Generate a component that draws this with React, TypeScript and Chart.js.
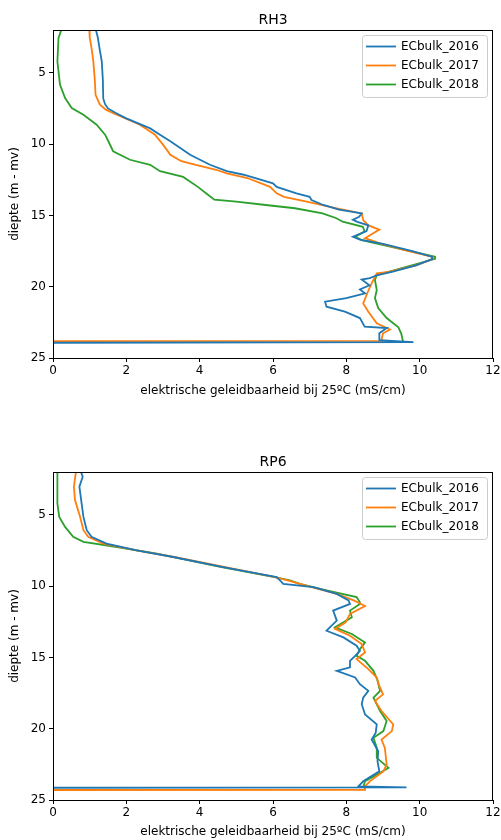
import React, { useEffect, useRef } from "react";
import { Chart, registerables } from "chart.js";
Chart.register(...registerables);

const FONT = "'DejaVu Sans', sans-serif";
const COLORS = ["#1f77b4", "#ff7f0e", "#2ca02c"];
const SERIES_LABELS = ["ECbulk_2016", "ECbulk_2017", "ECbulk_2018"];
const X_TICKS = [0, 2, 4, 6, 8, 10, 12];
const Y_TICKS = [5, 10, 15, 20, 25];
const X_TITLE = "elektrische geleidbaarheid bij 25ºC (mS/cm)";
const Y_TITLE = "diepte (m - mv)";

// ---------- RH3 ----------
const rh3Depth2016 = [1.9, 2.5, 3.3, 4.2, 5.5, 6.8, 7.2, 7.5, 7.8, 8.2, 8.9, 9.4, 9.8, 10.75, 11.45, 11.9, 12.15, 12.75, 13.0, 13.45, 13.7, 13.92, 14.27, 14.6, 14.86, 15.1, 15.3, 15.45, 15.7, 16.1, 16.5, 16.7, 17.0, 17.5, 17.9, 18.05, 18.5, 18.95, 19.2, 19.4, 19.5, 19.9, 20.2, 20.46, 20.8, 21.05, 21.4, 21.75, 22.2, 22.8, 22.9, 23.27, 23.74, 23.88, 23.93];
const rh3Ec2016 = [1.16, 1.22, 1.27, 1.33, 1.36, 1.37, 1.42, 1.5, 1.7, 2.0, 2.65, 2.95, 3.2, 3.74, 4.28, 4.74, 5.2, 6.0, 6.1, 6.64, 7.0, 7.05, 7.37, 7.8, 8.42, 8.35, 8.18, 8.3, 8.6, 8.55, 8.18, 8.37, 9.0, 9.8, 10.33, 10.35, 9.9, 9.27, 8.83, 8.64, 8.42, 8.63, 8.37, 8.51, 8.0, 7.42, 7.46, 7.96, 8.37, 8.5, 9.1, 8.9, 8.9, 9.83, 0];

const rh3Depth2017 = [1.9, 2.5, 3.26, 4.2, 5.5, 6.54, 7.24, 7.6, 7.94, 8.64, 9.34, 10.04, 10.75, 11.2, 11.5, 11.8, 12.05, 12.38, 13.0, 13.45, 13.7, 14.04, 14.5, 14.86, 15.33, 15.7, 16.0, 16.3, 16.6, 16.96, 17.5, 17.9, 18.05, 18.5, 18.95, 19.06, 19.76, 20.46, 21.17, 21.75, 22.57, 23.0, 23.27, 23.7, 23.8, 23.82];
const rh3Ec2017 = [0.99, 1.0, 1.05, 1.1, 1.14, 1.16, 1.28, 1.45, 1.74, 2.37, 2.78, 3.0, 3.2, 3.5, 3.95, 4.45, 4.74, 5.3, 5.92, 6.1, 6.3, 6.92, 7.74, 8.42, 8.46, 8.6, 8.9, 8.7, 8.51, 8.92, 9.7, 10.33, 10.37, 9.9, 9.2, 8.83, 8.69, 8.57, 8.46, 8.6, 8.83, 9.19, 9.0, 8.96, 9.0, 0];

const rh3Depth2018 = [1.9, 2.56, 4.2, 5.83, 6.77, 7.47, 7.94, 8.64, 9.34, 9.8, 10.5, 11.1, 11.45, 11.9, 12.3, 13.0, 13.5, 13.9, 14.04, 14.27, 14.5, 14.86, 15.2, 15.44, 15.8, 16.14, 16.5, 16.73, 17.9, 18.05, 18.8, 19.18, 19.53, 20.23, 20.8, 21.5, 22.2, 22.85, 23.3, 23.9];
const rh3Ec2018 = [0.24, 0.15, 0.12, 0.19, 0.33, 0.51, 0.83, 1.19, 1.42, 1.51, 1.64, 2.1, 2.65, 2.92, 3.55, 3.95, 4.2, 4.4, 5.0, 5.8, 6.6, 7.35, 7.73, 7.9, 8.45, 8.5, 8.24, 8.42, 10.42, 10.42, 9.37, 8.83, 8.78, 8.83, 8.78, 8.87, 9.1, 9.42, 9.5, 9.55];

// ---------- RP6 ----------
const rp6Depth2016 = [1.9, 2.33, 3.03, 4.2, 5.15, 6.08, 6.55, 7.02, 7.5, 7.96, 8.67, 9.37, 9.6, 9.84, 10.08, 10.55, 11.0, 11.25, 11.72, 12.42, 12.9, 13.13, 13.6, 14.18, 14.54, 14.89, 15.24, 15.7, 15.94, 16.41, 16.88, 17.35, 17.82, 18.29, 19.0, 19.7, 20.3, 20.76, 21.58, 22.3, 22.99, 23.69, 24.04, 24.12, 24.14];
const rp6Ec2016 = [0.75, 0.81, 0.72, 0.78, 0.83, 0.92, 1.05, 1.46, 2.28, 3.28, 4.64, 6.1, 6.19, 6.28, 7.1, 7.74, 8.06, 8.1, 7.64, 7.74, 7.55, 7.46, 7.92, 8.28, 8.37, 8.24, 8.1, 8.1, 7.74, 8.24, 8.37, 8.6, 8.46, 8.42, 8.51, 8.83, 8.8, 8.69, 8.87, 8.85, 8.9, 8.46, 8.33, 9.64, 0];

const rp6Depth2017 = [1.9, 3.03, 3.97, 5.15, 6.08, 6.55, 7.02, 7.5, 7.96, 8.67, 9.37, 9.6, 9.96, 10.55, 11.0, 11.4, 11.95, 12.54, 13.0, 13.48, 14.06, 14.65, 15.12, 15.82, 16.41, 17.0, 17.59, 18.06, 18.76, 19.7, 20.17, 20.76, 21.35, 22.51, 22.99, 23.69, 24.04, 24.28, 24.3];
const rp6Ec2017 = [0.63, 0.57, 0.6, 0.74, 0.83, 0.96, 1.37, 2.28, 3.3, 4.7, 6.05, 6.4, 6.9, 7.74, 8.2, 8.51, 8.1, 7.98, 7.69, 8.1, 8.42, 8.51, 8.28, 8.6, 8.83, 8.9, 9.0, 8.78, 8.96, 9.28, 9.24, 8.96, 9.05, 9.1, 9.01, 8.64, 8.51, 8.51, 0];

const rp6Depth2018 = [1.9, 4.2, 5.15, 5.85, 6.55, 6.9, 7.26, 7.73, 8.67, 9.37, 9.6, 9.84, 10.3, 10.77, 11.13, 11.25, 11.72, 12.19, 12.9, 13.36, 13.95, 14.42, 14.89, 15.24, 15.94, 16.53, 17.35, 17.82, 18.76, 19.46, 20.17, 20.64, 21.35, 22.05, 22.75, 23.22, 23.69, 24.1];
const rp6Ec2018 = [0.12, 0.12, 0.17, 0.33, 0.55, 0.83, 1.74, 2.83, 4.6, 6.05, 6.46, 6.73, 7.46, 8.28, 8.37, 8.37, 8.1, 8.15, 7.69, 8.15, 8.51, 8.37, 8.28, 8.51, 8.74, 8.84, 8.92, 8.74, 8.92, 9.1, 9.01, 8.74, 8.83, 8.83, 9.15, 8.83, 8.51, 8.46];

type Profile = {
  title: string;
  depths: number[][];
  ecs: number[][];
  height: number;
  topPad: number;
  xAxisHeight: number;
  xTitlePad: number;
};

const PROFILES: Profile[] = [
  { title: "RH3", depths: [rh3Depth2016, rh3Depth2017, rh3Depth2018], ecs: [rh3Ec2016, rh3Ec2017, rh3Ec2018], height: 420, topPad: 30, xAxisHeight: 62, xTitlePad: 22 },
  { title: "RP6", depths: [rp6Depth2016, rp6Depth2017, rp6Depth2018], ecs: [rp6Ec2016, rp6Ec2017, rp6Ec2018], height: 420, topPad: 52, xAxisHeight: 40, xTitlePad: 1 },
];

const decorPlugin = {
  id: "decor",
  afterDraw(chart: any, _args: any, opts: any) {
    const { ctx, chartArea: a } = chart;
    ctx.save();
    // frame
    ctx.strokeStyle = "#000";
    ctx.lineWidth = 1;
    ctx.strokeRect(Math.round(a.left) + 0.5, Math.round(a.top) + 0.5, Math.round(a.right - a.left) - 1, Math.round(a.bottom - a.top));
    // title
    ctx.fillStyle = "#000";
    ctx.font = `14px ${FONT}`;
    ctx.textAlign = "center";
    ctx.textBaseline = "alphabetic";
    ctx.fillText(opts.title, (a.left + a.right) / 2, a.top - 6);
    // legend
    const bx = a.right - 131;
    const by = a.top + 5;
    const bw = 125;
    const bh = 62;
    ctx.beginPath();
    ctx.roundRect(bx + 0.5, by + 0.5, bw, bh, 3);
    ctx.fillStyle = "rgba(255,255,255,0.8)";
    ctx.fill();
    ctx.strokeStyle = "#cccccc";
    ctx.stroke();
    ctx.font = `12px ${FONT}`;
    ctx.textAlign = "left";
    ctx.textBaseline = "middle";
    SERIES_LABELS.forEach((lab, i) => {
      const y = a.top + 16.5 + i * 19;
      ctx.strokeStyle = COLORS[i];
      ctx.lineWidth = 1.8;
      ctx.beginPath();
      ctx.moveTo(bx + 4, y);
      ctx.lineTo(bx + 34, y);
      ctx.stroke();
      ctx.fillStyle = "#000";
      ctx.fillText(lab, bx + 39, y + 0.5);
    });
    ctx.restore();
  },
};

function ProfileChart({ p }: { p: Profile }) {
  const ref = useRef<HTMLCanvasElement | null>(null);
  useEffect(() => {
    if (!ref.current) return;
    const datasets = p.depths.map((d, i) => ({
      label: SERIES_LABELS[i],
      data: d.map((depth, j) => ({ x: p.ecs[i][j], y: depth })),
      showLine: true,
      borderColor: COLORS[i],
      backgroundColor: COLORS[i],
      borderWidth: 1.8,
      pointRadius: 0,
      fill: false,
      tension: 0,
    }));
    const tickFont = { family: FONT, size: 12 };
    const chart = new Chart(ref.current, {
      type: "scatter",
      data: { datasets },
      plugins: [decorPlugin],
      options: {
        responsive: false,
        animation: false,
        layout: { padding: { top: p.topPad, right: 8, left: 0, bottom: 0 } },
        plugins: {
          legend: { display: false },
          title: { display: false },
          tooltip: { enabled: false },
          decor: { title: p.title },
        } as any,
        scales: {
          x: {
            type: "linear",
            min: 0,
            max: 12,
            afterBuildTicks: (s: any) => { s.ticks = X_TICKS.map((v) => ({ value: v })); },
            ticks: { color: "#000", font: tickFont, padding: 2, maxRotation: 0, autoSkip: false },
            grid: { display: true, drawOnChartArea: false, drawTicks: true, tickLength: 4, color: "#000", lineWidth: 1 },
            border: { display: false },
            title: { display: true, text: X_TITLE, color: "#000", font: { family: FONT, size: 12 }, padding: { top: 0, bottom: p.xTitlePad } },
            afterFit: (s: any) => { s.height = p.xAxisHeight; s.paddingLeft = 0; s.paddingRight = 0; },
          },
          y: {
            type: "linear",
            reverse: true,
            min: 2,
            max: 25,
            afterBuildTicks: (s: any) => { s.ticks = Y_TICKS.map((v) => ({ value: v })); },
            ticks: { color: "#000", font: tickFont, padding: 3, autoSkip: false },
            grid: { display: true, drawOnChartArea: false, drawTicks: true, tickLength: 4, color: "#000", lineWidth: 1 },
            border: { display: false },
            title: { display: true, text: Y_TITLE, color: "#000", font: { family: FONT, size: 12 }, padding: { top: 8, bottom: 0 } },
            afterFit: (s: any) => { s.width = 53; s.paddingTop = 0; s.paddingBottom = 0; },
          },
        },
      } as any,
    });
    return () => chart.destroy();
  }, [p]);
  return <canvas ref={ref} width={501} height={p.height} style={{ display: "block", width: 501, height: p.height }} />;
}

export default function App() {
  return (
    <div style={{ position: "absolute", left: 0, top: 0, width: 501, height: 840, background: "#fff" }}>
      {PROFILES.map((p) => (
        <ProfileChart key={p.title} p={p} />
      ))}
    </div>
  );
}
